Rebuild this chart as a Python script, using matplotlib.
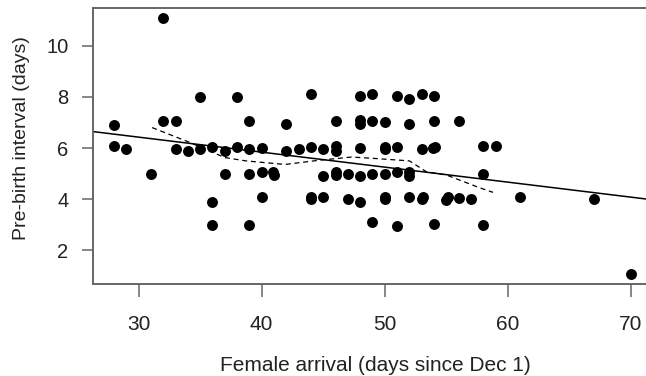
import numpy as np
import matplotlib
matplotlib.use('Agg')
import matplotlib.pyplot as plt

plt.rcParams['font.family'] = ['Liberation Sans', 'DejaVu Sans']

# female arrival day (since Dec 1) and pre-birth interval (days)
arrival = [32,
           35, 38, 44, 48, 49, 51, 52, 53, 54,
           28, 32, 33, 39, 42, 46, 48, 48, 49, 50, 52, 54, 56,
           28, 29, 33, 34, 35, 36, 37, 38, 39, 40, 42, 43, 44, 45, 46, 46,
           48, 50, 50, 51, 53, 53.9, 54.1, 58, 59,
           31, 37, 39, 40, 40.9, 41, 45, 46, 46, 47, 48, 49, 50, 51, 52, 52, 58,
           36, 40, 44, 44, 45, 47, 48, 50, 50, 52, 53, 53.1, 55, 55.1, 56, 57, 61, 67,
           36, 39, 49, 51, 54, 58,
           70]
interval = [11.1,
            8.0, 8.0, 8.1, 8.05, 8.1, 8.05, 7.9, 8.1, 8.05,
            6.9, 7.05, 7.05, 7.05, 6.95, 7.05, 7.1, 6.95, 7.05, 7.0, 6.95, 7.05, 7.05,
            6.1, 5.95, 5.95, 5.9, 5.95, 6.05, 5.9, 6.05, 5.95, 6.0, 5.9, 5.95, 6.05, 5.95, 6.1, 5.9,
            6.0, 6.05, 5.95, 6.05, 5.95, 6.02, 6.03, 6.1, 6.1,
            5.0, 5.0, 5.0, 5.05, 5.05, 4.95, 4.9, 5.05, 4.95, 5.0, 4.9, 5.0, 5.0, 5.05, 5.07, 4.9, 5.0,
            3.9, 4.1, 4.1, 4.0, 4.1, 4.0, 3.9, 4.0, 4.1, 4.1, 4.02, 4.08, 3.97, 4.08, 4.05, 4.0, 4.1, 4.0,
            3.0, 3.0, 3.1, 2.95, 3.05, 3.0,
            1.1]

# fitted straight line (intercept, slope) as drawn in the figure
fit_intercept = 8.185
fit_slope = -0.0586

# dashed smoother
smooth_x = [31.1, 34, 37, 38.7, 41.9, 44.6, 47.3, 49, 52, 53.4, 55, 57.7, 58.8]
smooth_y = [6.8, 6.25, 5.63, 5.5, 5.36, 5.52, 5.65, 5.6, 5.5, 5.07, 4.95, 4.45, 4.27]

xlims = (26.32, 71.68)
ylims = (0.69, 11.46)

fig = plt.figure(figsize=(6.46, 3.76), dpi=100)
ax = fig.add_axes([93.3 / 646, 92 / 376, 558.3 / 646, 275.7 / 376])

ax.scatter(arrival, interval, s=62, color='black', zorder=3, linewidths=0)
xl = np.array(xlims)
ax.plot(xl, fit_intercept + fit_slope * xl, color='black', lw=1.1)
ax.plot(smooth_x, smooth_y, color='black', lw=0.9, ls=(0, (4, 3)))

ax.set_xlim(*xlims)
ax.set_ylim(*ylims)
ax.set_xticks([30, 40, 50, 60, 70])
ax.set_yticks([2, 4, 6, 8, 10])

for s in ax.spines.values():
    s.set_color('#666666')
    s.set_linewidth(1.4)
ax.tick_params(direction='out', width=1.1, color='#666666', labelcolor='#222222')
ax.tick_params(axis='x', length=9, pad=13.5, labelsize=15)
ax.tick_params(axis='y', length=8, pad=10, labelsize=14.5)

ax.set_xlabel('Female arrival (days since Dec 1)', fontsize=15, color='#222222', va='baseline')
ax.xaxis.set_label_coords(0.505, -0.3145)
ax.set_ylabel('Pre-birth interval (days)', fontsize=14, color='#222222', va='baseline')
ax.yaxis.set_label_coords(-0.1205, 0.531)

fig.savefig('out.png', dpi=100)
